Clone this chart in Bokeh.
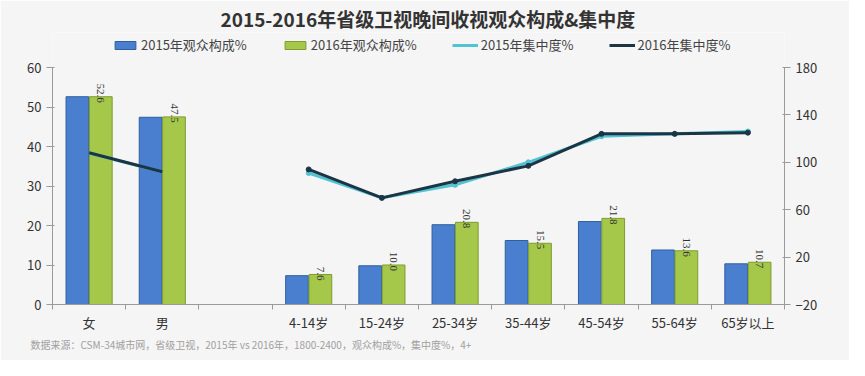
from bokeh.plotting import figure
from bokeh.models import (ColumnDataSource, Range1d, LinearAxis, Legend, LegendItem,
                          FixedTicker, LabelSet, Title)
from bokeh.embed import file_html
from bokeh.resources import INLINE

FONT = "Noto Sans CJK SC"

categories = ["女", "男", " ", "4-14岁", "15-24岁", "25-34岁", "35-44岁", "45-54岁", "55-64岁", "65岁以上"]
bar_cats = ["女", "男", "4-14岁", "15-24岁", "25-34岁", "35-44岁", "45-54岁", "55-64岁", "65岁以上"]
share_2015 = [52.6, 47.4, 7.3, 9.8, 20.2, 16.2, 21.0, 13.8, 10.3]
share_2016 = [52.6, 47.5, 7.6, 10.0, 20.8, 15.5, 21.8, 13.6, 10.7]
share_2016_labels = ["52.6", "47.5", "7.6", "10.0", "20.8", "15.5", "21.8", "13.6", "10.7"]

gender_cats = ["女", "男"]
conc_2015_gender = [107.5, 92]
conc_2016_gender = [108, 92]
age_cats = ["4-14岁", "15-24岁", "25-34岁", "35-44岁", "45-54岁", "55-64岁", "65岁以上"]
conc_2015_age = [91, 70, 81, 100, 122, 124, 126]
conc_2016_age = [94, 70, 84, 97, 124, 124, 125]

left_ticks = [0, 10, 20, 30, 40, 50, 60]
right_ticks = [-20, 20, 60, 100, 140, 180]

BLUE = "#4a7fcf"
GREEN = "#a5c84a"
CYAN = "#52c3d3"
DARK = "#1c3544"
BG = "#f5f5f5"

# category slots on a numeric scale: slot i spans [i, i+1]
def pos(cat):
    return categories.index(cat) + 0.5

n = len(categories)
centers = [i + 0.5 for i in range(n)]
bounds = [float(i) for i in range(n + 1)]

# frame is extended upward so the legend sits inside it; axes are bounded to the data ranges
FRAME_H = 272
PLOT_H = 237
left_top = 0 + 60 * FRAME_H / PLOT_H
right_top = -20 + 200 * FRAME_H / PLOT_H

p = figure(x_range=Range1d(0, n), y_range=Range1d(0, left_top),
           width=849, height=360, output_backend="svg", toolbar_location=None,
           min_border_left=52, min_border_right=65, min_border_top=32, min_border_bottom=56,
           background_fill_color=BG, border_fill_color=BG, outline_line_color=None)

p.title.text = "2015-2016年省级卫视晚间收视观众构成&集中度"
p.title.align = "left"
p.title.offset = 168
p.title.text_font = FONT
p.title.text_font_size = "19px"
p.title.text_font_style = "bold"
p.title.text_color = "#333333"
p.title.standoff = 2

p.extra_y_ranges = {"right": Range1d(-20, right_top)}
p.add_layout(LinearAxis(y_range_name="right", ticker=FixedTicker(ticks=right_ticks),
                        bounds=(-20, 180)), "right")

x15 = [pos(c) - 0.16 for c in bar_cats]
x16 = [pos(c) + 0.16 for c in bar_cats]
src = ColumnDataSource(dict(x15=x15, x16=x16, s15=share_2015, s16=share_2016, lab=share_2016_labels))
r15 = p.vbar(x="x15", top="s15", width=0.31, source=src,
             fill_color=BLUE, line_color="#2f5f9f", line_width=1)
r16 = p.vbar(x="x16", top="s16", width=0.31, source=src,
             fill_color=GREEN, line_color="#7f9d30", line_width=1)

labels = LabelSet(x="x16", y="s16", text="lab", source=src,
                  angle=-1.5708, text_align="right", text_baseline="middle", y_offset=-6,
                  text_font_size="11px", text_color="#333333", text_font=FONT)
p.add_layout(labels)

gx = [pos(c) for c in gender_cats]
ax_ = [pos(c) for c in age_cats]
l15a = p.line(gx, conc_2015_gender, y_range_name="right", line_color=CYAN, line_width=3)
p.line(ax_, conc_2015_age, y_range_name="right", line_color=CYAN, line_width=3)
p.scatter(ax_, conc_2015_age, y_range_name="right", size=5, fill_color=CYAN, line_color=CYAN)
l16a = p.line(gx, conc_2016_gender, y_range_name="right", line_color=DARK, line_width=3)
p.line(ax_, conc_2016_age, y_range_name="right", line_color=DARK, line_width=3)
p.scatter(ax_, conc_2016_age, y_range_name="right", size=5, fill_color=DARK, line_color=DARK)

legend = Legend(items=[LegendItem(label="2015年观众构成%", renderers=[r15]),
                       LegendItem(label="2016年观众构成%", renderers=[r16]),
                       LegendItem(label="2015年集中度%", renderers=[l15a]),
                       LegendItem(label="2016年集中度%", renderers=[l16a])],
                orientation="horizontal", location=(60, 250),
                background_fill_alpha=0, border_line_color=None,
                label_text_font=FONT, label_text_font_size="13px", label_text_color="#444444",
                glyph_width=26, glyph_height=10, spacing=35, padding=2, margin=0,
                label_standoff=3)
p.add_layout(legend)

note = Title(text="数据来源：CSM-34城市网，省级卫视，2015年 vs 2016年，1800-2400，观众构成%，集中度%，4+",
             text_font=FONT, text_font_size="10px", text_color="#a0a0a0", text_font_style="normal",
             align="left", offset=-22, standoff=0)
p.add_layout(note, "below")

p.yaxis[0].ticker = FixedTicker(ticks=left_ticks)
p.yaxis[0].bounds = (0, 60)
p.xaxis.ticker = FixedTicker(ticks=centers, minor_ticks=bounds)
p.xaxis.major_label_overrides = {c: lab for c, lab in zip(centers, categories)}
p.xaxis.major_tick_line_color = None
p.xaxis.major_tick_out = 3
p.xaxis.major_tick_in = 0
p.xaxis.major_label_standoff = 3
p.xaxis.minor_tick_line_color = "#9a9a9a"
p.xaxis.minor_tick_out = 5
p.xaxis.minor_tick_in = 0
for ax in p.yaxis + p.xaxis:
    ax.axis_line_color = "#9a9a9a"
    ax.major_label_text_font = FONT
    ax.major_label_text_color = "#333333"
    ax.major_label_text_font_size = "13px"
for ax in p.yaxis:
    ax.major_tick_line_color = "#9a9a9a"
    ax.minor_tick_line_color = None
p.xgrid.grid_line_color = None
p.ygrid.grid_line_color = None

open("out.html", "w").write(file_html(p, INLINE))
